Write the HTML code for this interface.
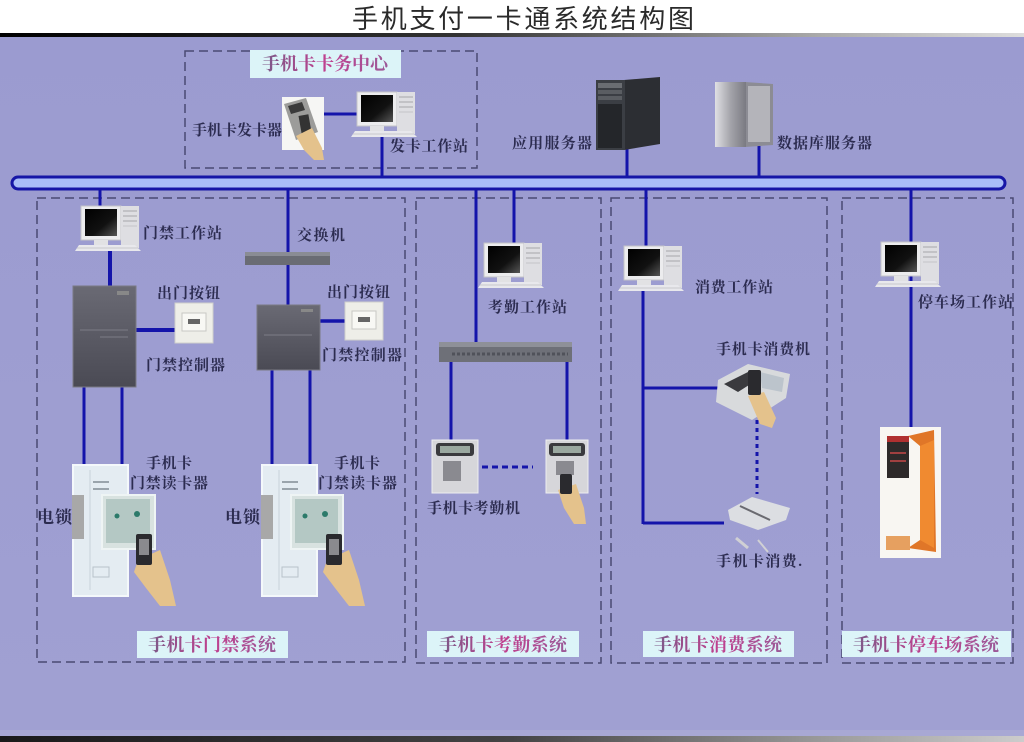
<!DOCTYPE html>
<html><head><meta charset="utf-8"><style>
html,body{margin:0;padding:0;background:#fff;width:1024px;height:742px;overflow:hidden}
svg{display:block}
.t{font-family:"Liberation Serif","Noto Serif CJK SC",serif;font-weight:bold;font-size:15px;fill:#2c2c50}
.e{font-family:"Liberation Serif","Noto Serif CJK SC",serif;font-weight:bold;font-size:17px;fill:#2c2c50}
.s{font-family:"Liberation Serif","Noto Serif CJK SC",serif;font-weight:bold;font-size:18px;fill:url(#lbl)}
.ti{font-family:"Liberation Sans","Noto Sans CJK SC",sans-serif;font-size:26px;fill:#2a2a2a}
</style></head><body>
<svg width="1024" height="742" viewBox="0 0 1024 742" xmlns="http://www.w3.org/2000/svg">
<defs>
<linearGradient id="topline" x1="0" x2="1" y1="0" y2="0"><stop offset="0" stop-color="#000"/><stop offset="0.45" stop-color="#333"/><stop offset="0.8" stop-color="#aaa"/><stop offset="1" stop-color="#ddd"/></linearGradient>
<linearGradient id="botline" x1="0" x2="1" y1="0" y2="0"><stop offset="0" stop-color="#1a1a1a"/><stop offset="0.5" stop-color="#444"/><stop offset="0.8" stop-color="#999"/><stop offset="1" stop-color="#ccc"/></linearGradient>
<linearGradient id="bg" x1="0" x2="0" y1="0" y2="1"><stop offset="0" stop-color="#9b9bd0"/><stop offset="1" stop-color="#a0a0d2"/></linearGradient>
<linearGradient id="lbl" x1="0" x2="1" y1="0" y2="0"><stop offset="0" stop-color="#7a5a88"/><stop offset="0.5" stop-color="#c0408f"/><stop offset="1" stop-color="#9a5a98"/></linearGradient>
<linearGradient id="scr" x1="0" x2="1" y1="0" y2="1"><stop offset="0" stop-color="#000"/><stop offset="0.6" stop-color="#111"/><stop offset="1" stop-color="#555"/></linearGradient>
<linearGradient id="ctl" x1="0" x2="0" y1="0" y2="1"><stop offset="0" stop-color="#6a6a74"/><stop offset="1" stop-color="#4a4a54"/></linearGradient>
<linearGradient id="db" x1="0" x2="1" y1="0" y2="0"><stop offset="0" stop-color="#e0e0e4"/><stop offset="0.5" stop-color="#a4a4aa"/><stop offset="1" stop-color="#7a7a82"/></linearGradient>
<g id="pc">
 <rect x="0" y="0" width="40" height="34" fill="#ececee" stroke="#c4c4c8" stroke-width="1"/>
 <rect x="4" y="3" width="32" height="27" fill="url(#scr)"/>
 <rect x="40" y="0" width="18" height="42" fill="#dedee2"/>
 <line x1="42" y1="5" x2="56" y2="5" stroke="#b8b8bc" stroke-width="1.5"/>
 <line x1="42" y1="10" x2="56" y2="10" stroke="#b8b8bc" stroke-width="1.5"/>
 <line x1="42" y1="15" x2="56" y2="15" stroke="#b8b8bc" stroke-width="1.5"/>
 <line x1="42" y1="20" x2="56" y2="20" stroke="#c4c4c8" stroke-width="1"/>
 <rect x="13" y="34" width="14" height="5" fill="#e2e2e4"/>
 <polygon points="-2,39 54,39 60,45 -6,45" fill="#e8e8ec"/>
 <line x1="-4" y1="42" x2="57" y2="42" stroke="#c8c8cc" stroke-width="1"/>
</g>
</defs>

<!-- background -->
<rect x="0" y="0" width="1024" height="34" fill="#fff"/>
<rect x="0" y="33" width="1024" height="4" fill="url(#topline)"/>
<rect x="0" y="37" width="1024" height="699" fill="url(#bg)"/>
<rect x="0" y="730" width="1024" height="6" fill="#a8a8d4"/>
<rect x="0" y="736" width="1024" height="6" fill="url(#botline)"/>

<text class="ti" x="523" y="28" text-anchor="middle" textLength="342" lengthAdjust="spacing">手机支付一卡通系统结构图</text>

<!-- dashed boxes -->
<g fill="none" stroke="#4a4a72" stroke-width="1.5" stroke-dasharray="9,5">
 <rect x="185" y="51" width="292" height="117"/>
 <rect x="37" y="198" width="368" height="464"/>
 <rect x="416" y="198" width="185" height="465"/>
 <rect x="611" y="198" width="216" height="465"/>
 <rect x="842" y="198" width="171" height="465"/>
</g>

<!-- blue lines -->
<g stroke="#1414aa" stroke-width="3" fill="none">
 <line x1="324" y1="114" x2="357" y2="114"/>
 <line x1="382" y1="136" x2="382" y2="177"/>
 <line x1="627" y1="148" x2="627" y2="177"/>
 <line x1="759" y1="146" x2="759" y2="177"/>
 <line x1="100" y1="188" x2="100" y2="206"/>
 <line x1="110" y1="250" x2="110" y2="286" stroke-width="4"/>
 <line x1="136" y1="330" x2="175" y2="330" stroke-width="4"/>
 <line x1="84" y1="387" x2="84" y2="516"/>
 <line x1="122" y1="387" x2="122" y2="497"/>
 <line x1="288" y1="188" x2="288" y2="306"/>
 <line x1="320" y1="321" x2="345" y2="321" stroke-width="3.5"/>
 <line x1="272" y1="370" x2="272" y2="516"/>
 <line x1="310" y1="370" x2="310" y2="497"/>
 <line x1="476" y1="188" x2="476" y2="343"/>
 <line x1="514" y1="188" x2="514" y2="243"/>
 <line x1="451" y1="361" x2="451" y2="441"/>
 <line x1="567" y1="361" x2="567" y2="441"/>
 <line x1="482" y1="467" x2="533" y2="467" stroke-dasharray="6,4"/>
 <line x1="646" y1="188" x2="646" y2="246"/>
 <line x1="643" y1="290" x2="643" y2="524"/>
 <line x1="643" y1="388" x2="720" y2="388"/>
 <line x1="643" y1="523" x2="724" y2="523"/>
 <line x1="757" y1="420" x2="757" y2="494" stroke-dasharray="4,4"/>
 <line x1="911" y1="188" x2="911" y2="428"/>
</g>

<!-- bus -->
<rect x="12" y="177" width="993" height="12" rx="6" fill="#a9bdf8" stroke="#1616a6" stroke-width="3"/>

<!-- card center label -->
<rect x="250" y="50" width="151" height="28" fill="#dcf4f8"/>
<text class="s" x="325" y="70" text-anchor="middle" textLength="126" lengthAdjust="spacing">手机卡卡务中心</text>

<!-- card issuer -->
<rect x="282" y="97" width="42" height="53" fill="#f6f6f4"/>
<polygon points="284,104 306,98 318,132 296,140" fill="#9c9c9a"/>
<polygon points="288,106 302,102 305,110 291,114" fill="#3a3a3a"/>
<rect x="300" y="115" width="10" height="18" fill="#333" transform="rotate(-10 305 124)"/>
<polygon points="296,136 312,128 322,148 324,160 314,160 304,150" fill="#e4c28c"/>
<use href="#pc" x="357" y="92"/>

<!-- servers -->
<polygon points="624,80 660,77 660,144 624,150" fill="#2c2e33"/>
<rect x="596" y="80" width="29" height="70" fill="#3b3e44"/>
<rect x="598" y="83" width="24" height="5" fill="#6a6d72"/>
<rect x="598" y="90" width="24" height="4" fill="#5a5d62"/>
<rect x="598" y="96" width="24" height="4" fill="#5a5d62"/>
<rect x="598" y="104" width="24" height="44" fill="#24262a"/>
<polygon points="745,82 773,84 773,145 745,147" fill="#8c8c94"/>
<rect x="715" y="82" width="31" height="65" fill="url(#db)"/>
<rect x="748" y="86" width="22" height="56" fill="#b4b4ba"/>

<!-- access control: PC -->
<use href="#pc" x="81" y="206"/>

<!-- controllers -->
<rect x="73" y="286" width="63" height="101" fill="url(#ctl)" stroke="#7a7a84" stroke-width="1"/>
<line x1="80" y1="330" x2="128" y2="330" stroke="#7c7c86" stroke-width="1"/>
<line x1="100" y1="337" x2="128" y2="337" stroke="#7c7c86" stroke-width="1"/>
<rect x="117" y="291" width="12" height="4" fill="#888"/>
<rect x="257" y="305" width="63" height="65" fill="url(#ctl)" stroke="#7a7a84" stroke-width="1"/>
<line x1="264" y1="335" x2="312" y2="335" stroke="#7c7c86" stroke-width="1"/>
<rect x="301" y="309" width="12" height="3" fill="#888"/>

<!-- exit buttons -->
<g>
 <rect x="175" y="303" width="38" height="40" fill="#eeeee8" stroke="#d0d0cc"/>
 <rect x="182" y="313" width="24" height="18" fill="#f8f8f4" stroke="#c8c8c4"/>
 <rect x="188" y="319" width="12" height="5" fill="#666"/>
 <rect x="345" y="302" width="38" height="38" fill="#eeeee8" stroke="#d0d0cc"/>
 <rect x="352" y="311" width="24" height="18" fill="#f8f8f4" stroke="#c8c8c4"/>
 <rect x="358" y="317" width="12" height="5" fill="#666"/>
</g>

<!-- switch 1 -->
<rect x="245" y="252" width="85" height="13" fill="#6a6c74"/>
<rect x="245" y="252" width="85" height="4" fill="#8a8c94"/>

<!-- doors -->
<g>
 <rect x="73" y="465" width="55" height="131" fill="#e4ecf2" stroke="#f4f8fb" stroke-width="2"/>
 <line x1="90" y1="470" x2="90" y2="590" stroke="#c8d2da"/>
 <rect x="93" y="481" width="16" height="2" fill="#9aa4ac"/>
 <rect x="93" y="488" width="16" height="2" fill="#9aa4ac"/>
 <rect x="93" y="567" width="16" height="10" fill="none" stroke="#b8c2ca"/>
 <rect x="72" y="495" width="12" height="44" fill="#a8a8a8"/>
 <rect x="102" y="495" width="53" height="54" fill="#d8e2e0" stroke="#eef4f4" stroke-width="2"/>
 <rect x="106" y="499" width="44" height="44" fill="#b4c8c4"/>
 <circle cx="117" cy="516" r="2.5" fill="#2c7a6a"/>
 <circle cx="137" cy="514" r="3" fill="#2c7a6a"/>
 <polygon points="138,560 160,550 170,580 176,606 160,606 146,588 134,572" fill="#e4c28c"/>
 <rect x="136" y="534" width="16" height="31" rx="2" fill="#2a2a2e"/>
 <rect x="139" y="539" width="10" height="16" fill="#8a8a8e"/>
</g>
<g>
 <rect x="262" y="465" width="55" height="131" fill="#e4ecf2" stroke="#f4f8fb" stroke-width="2"/>
 <line x1="279" y1="470" x2="279" y2="590" stroke="#c8d2da"/>
 <rect x="282" y="481" width="16" height="2" fill="#9aa4ac"/>
 <rect x="282" y="488" width="16" height="2" fill="#9aa4ac"/>
 <rect x="282" y="567" width="16" height="10" fill="none" stroke="#b8c2ca"/>
 <rect x="261" y="495" width="12" height="44" fill="#a8a8a8"/>
 <rect x="291" y="495" width="52" height="54" fill="#d8e2e0" stroke="#eef4f4" stroke-width="2"/>
 <rect x="295" y="499" width="43" height="44" fill="#b4c8c4"/>
 <circle cx="305" cy="516" r="2.5" fill="#2c7a6a"/>
 <circle cx="325" cy="514" r="3" fill="#2c7a6a"/>
 <polygon points="327,560 349,550 359,580 365,606 349,606 335,588 323,572" fill="#e4c28c"/>
 <rect x="326" y="534" width="16" height="31" rx="2" fill="#2a2a2e"/>
 <rect x="329" y="539" width="10" height="16" fill="#8a8a8e"/>
</g>

<!-- attendance -->
<use href="#pc" x="484" y="243"/>
<rect x="439" y="342" width="133" height="20" fill="#6e7078"/>
<rect x="439" y="342" width="133" height="5" fill="#8e9098"/>
<line x1="452" y1="354" x2="568" y2="354" stroke="#50525a" stroke-width="3" stroke-dasharray="3,2"/>
<g>
 <rect x="432" y="440" width="46" height="53" fill="#d6d6da" stroke="#eeeef0"/>
 <rect x="436" y="443" width="38" height="13" rx="3" fill="#3a3a3e"/>
 <rect x="440" y="446" width="30" height="7" fill="#9aa8a0"/>
 <rect x="443" y="461" width="18" height="20" fill="#8a8a90"/>
 <rect x="546" y="440" width="42" height="53" fill="#d6d6da" stroke="#eeeef0"/>
 <rect x="549" y="443" width="36" height="13" rx="3" fill="#3a3a3e"/>
 <rect x="553" y="446" width="28" height="7" fill="#9aa8a0"/>
 <rect x="556" y="461" width="18" height="14" fill="#8a8a90"/>
 <polygon points="558,490 576,484 584,508 586,524 574,524 564,508" fill="#e4c28c"/>
 <rect x="560" y="474" width="12" height="20" rx="2" fill="#2a2a2e"/>
</g>

<!-- consumption -->
<use href="#pc" x="624" y="246"/>
<g>
 <polygon points="718,380 748,364 790,374 786,398 752,420 716,402" fill="#d8dadc"/>
 <polygon points="724,384 748,372 760,378 738,392" fill="#3a3a3e"/>
 <polygon points="760,372 784,378 782,392 762,388" fill="#bcc4cc"/>
 <polygon points="748,396 764,392 776,418 772,428 760,424" fill="#e4c28c"/>
 <rect x="748" y="370" width="13" height="25" rx="2" fill="#2a2a2e"/>
 <polygon points="728,510 752,497 790,508 786,520 758,530 730,520" fill="#dcdee2"/>
 <line x1="740" y1="506" x2="770" y2="520" stroke="#6a6a70" stroke-width="2"/>
 <line x1="736" y1="538" x2="748" y2="548" stroke="#d0d0d4" stroke-width="3"/>
 <line x1="758" y1="540" x2="768" y2="552" stroke="#d0d0d4" stroke-width="2"/>
</g>

<!-- parking -->
<use href="#pc" x="881" y="242"/>
<rect x="880" y="427" width="61" height="131" fill="#f8f6f2"/>
<polygon points="908,436 934,430 936,552 908,548 920,540 920,446" fill="#e07628"/>
<polygon points="920,446 934,440 934,548 920,540" fill="#f08a30"/>
<rect x="887" y="436" width="22" height="6" fill="#b03030"/>
<rect x="887" y="442" width="22" height="36" fill="#2e2a2a"/>
<rect x="890" y="452" width="16" height="2" fill="#a04040"/>
<rect x="890" y="460" width="16" height="2" fill="#a04040"/>
<rect x="886" y="536" width="24" height="14" fill="#e6a060"/>

<!-- labels -->
<text class="t" x="192" y="135" textLength="90" lengthAdjust="spacing">手机卡发卡器</text>
<text class="t" x="390" y="151" textLength="78" lengthAdjust="spacing">发卡工作站</text>
<text class="t" x="512" y="148" textLength="80" lengthAdjust="spacing">应用服务器</text>
<text class="t" x="777" y="148" textLength="95" lengthAdjust="spacing">数据库服务器</text>
<text class="t" x="143" y="238" textLength="79" lengthAdjust="spacing">门禁工作站</text>
<text class="t" x="297" y="240" textLength="48" lengthAdjust="spacing">交换机</text>
<text class="t" x="157" y="298" textLength="63" lengthAdjust="spacing">出门按钮</text>
<text class="t" x="146" y="370" textLength="79" lengthAdjust="spacing">门禁控制器</text>
<text class="t" x="327" y="297" textLength="63" lengthAdjust="spacing">出门按钮</text>
<text class="t" x="322" y="360" textLength="80" lengthAdjust="spacing">门禁控制器</text>
<text class="t" x="146" y="468" textLength="46" lengthAdjust="spacing">手机卡</text>
<text class="t" x="130" y="488" textLength="78" lengthAdjust="spacing">门禁读卡器</text>
<text class="e" x="37" y="523" textLength="35" lengthAdjust="spacing">电锁</text>
<text class="t" x="334" y="468" textLength="46" lengthAdjust="spacing">手机卡</text>
<text class="t" x="318" y="488" textLength="79" lengthAdjust="spacing">门禁读卡器</text>
<text class="e" x="225" y="523" textLength="35" lengthAdjust="spacing">电锁</text>
<text class="t" x="488" y="312" textLength="79" lengthAdjust="spacing">考勤工作站</text>
<text class="t" x="427" y="513" textLength="93" lengthAdjust="spacing">手机卡考勤机</text>
<text class="t" x="695" y="292" textLength="78" lengthAdjust="spacing">消费工作站</text>
<text class="t" x="716" y="354" textLength="94" lengthAdjust="spacing">手机卡消费机</text>
<text class="t" x="716" y="566" textLength="86" lengthAdjust="spacing">手机卡消费.</text>
<text class="t" x="918" y="307" textLength="95" lengthAdjust="spacing">停车场工作站</text>

<!-- system labels -->
<rect x="137" y="631" width="151" height="27" fill="#dcf4f8"/>
<text class="s" x="212" y="651" text-anchor="middle" textLength="128" lengthAdjust="spacing">手机卡门禁系统</text>
<rect x="427" y="631" width="152" height="26" fill="#dcf4f8"/>
<text class="s" x="503" y="651" text-anchor="middle" textLength="128" lengthAdjust="spacing">手机卡考勤系统</text>
<rect x="643" y="631" width="151" height="26" fill="#dcf4f8"/>
<text class="s" x="718" y="651" text-anchor="middle" textLength="128" lengthAdjust="spacing">手机卡消费系统</text>
<rect x="842" y="631" width="169" height="26" fill="#dcf4f8"/>
<text class="s" x="926" y="651" text-anchor="middle" textLength="146" lengthAdjust="spacing">手机卡停车场系统</text>
</svg>
</body></html>
